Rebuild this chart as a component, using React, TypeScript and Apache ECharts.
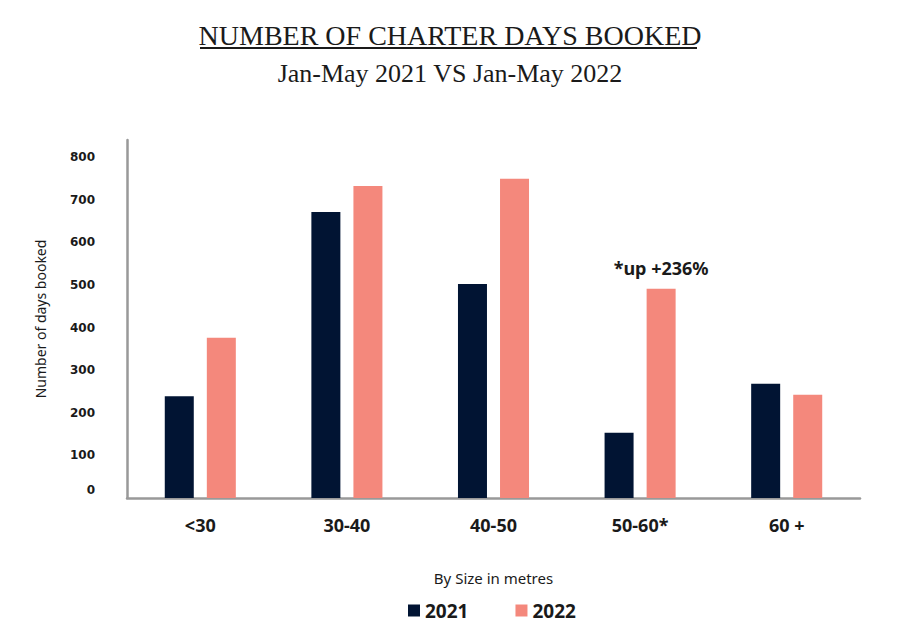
import React, { useEffect, useRef } from "react";
import * as echarts from "echarts";

const categories = ["<30", "30-40", "40-50", "50-60*", "60 +"];
const series2021 = [239, 671, 502, 153, 268];
const series2022 = [376, 732, 749, 491, 242];
const annotationIndex = 3;
const annotationText = "*up +236%";

export default function App() {
  const ref = useRef<HTMLDivElement>(null);
  useEffect(() => {
    if (!ref.current) return;
    const chart = echarts.init(ref.current, null, { renderer: "svg" });
    const data2022 = series2022.map((v, i) =>
      i === annotationIndex
        ? {
            value: v,
            label: {
              show: true,
              position: "top",
              distance: 12,
              formatter: annotationText,
              color: "#1a1a1a",
              fontFamily: "Noto Sans",
              fontWeight: "bold",
              fontSize: 18,
            },
          }
        : v
    );
    chart.setOption({
      animation: false,
      title: [
        {
          text: "NUMBER OF CHARTER DAYS BOOKED",
          left: "center",
          top: 16,
          textStyle: {
            fontFamily: "Liberation Serif",
            fontWeight: "normal",
            fontSize: 28,
            color: "#1a1a1a",
          },
        },
        {
          text: "Jan-May 2021 VS Jan-May 2022",
          left: "center",
          top: 55,
          textStyle: {
            fontFamily: "Liberation Serif",
            fontWeight: "normal",
            fontSize: 26,
            color: "#1a1a1a",
          },
        },
      ],
      graphic: [
        {
          type: "line",
          shape: { x1: 200, y1: 48, x2: 697, y2: 48 },
          style: { stroke: "#1a1a1a", lineWidth: 2 },
        },
      ],
      legend: {
        bottom: 5,
        left: 403,
        icon: "rect",
        itemWidth: 12,
        itemHeight: 12,
        itemGap: 47,
        textStyle: {
          fontFamily: "Noto Sans",
          fontWeight: "bold",
          fontSize: 19,
          color: "#1a1a1a",
        },
        data: ["2021", "2022"],
      },
      grid: { left: 127, right: 40, top: 140, bottom: 132 },
      xAxis: {
        type: "category",
        data: categories,
        name: "By Size in metres",
        nameLocation: "middle",
        nameGap: 72,
        nameTextStyle: { fontFamily: "Noto Sans", fontSize: 15, color: "#1a1a1a" },
        axisLine: { lineStyle: { color: "#999999", width: 2.5 } },
        axisTick: { show: false },
        axisLabel: {
          margin: 18,
          fontFamily: "Noto Sans",
          fontWeight: "bold",
          fontSize: 18,
          color: "#1a1a1a",
        },
      },
      yAxis: {
        type: "value",
        min: 0,
        max: 840,
        interval: 100,
        name: "Number of days booked",
        nameLocation: "middle",
        nameGap: 80,
        nameRotate: 90,
        nameTextStyle: { fontFamily: "Noto Sans", fontSize: 14, color: "#1a1a1a" },
        axisLine: { show: true, lineStyle: { color: "#999999", width: 2.5 } },
        axisTick: { show: false },
        splitLine: { show: false },
        axisLabel: {
          margin: 32,
          showMaxLabel: false,
          fontFamily: "DejaVu Sans",
          fontWeight: "bold",
          fontSize: 12,
          color: "#1a1a1a",
          formatter: (v: number) => (v === 0 ? "{zero|0}" : v % 100 === 0 ? String(v) : ""),
          rich: {
            zero: {
              fontFamily: "DejaVu Sans",
              fontWeight: "bold",
              fontSize: 12,
              color: "#1a1a1a",
              padding: [0, 0, 16, 0],
            },
          },
        },
      },
      series: [
        {
          name: "2021",
          type: "bar",
          data: series2021,
          barWidth: 29,
          barGap: "45%",
          itemStyle: { color: "#011433" },
        },
        {
          name: "2022",
          type: "bar",
          data: data2022,
          barWidth: 29,
          itemStyle: { color: "#F4887C" },
        },
      ],
    });
    return () => chart.dispose();
  }, []);
  return (
    <div
      ref={ref}
      style={{ position: "fixed", left: 0, top: 0, width: 900, height: 630, background: "#fff" }}
    />
  );
}
